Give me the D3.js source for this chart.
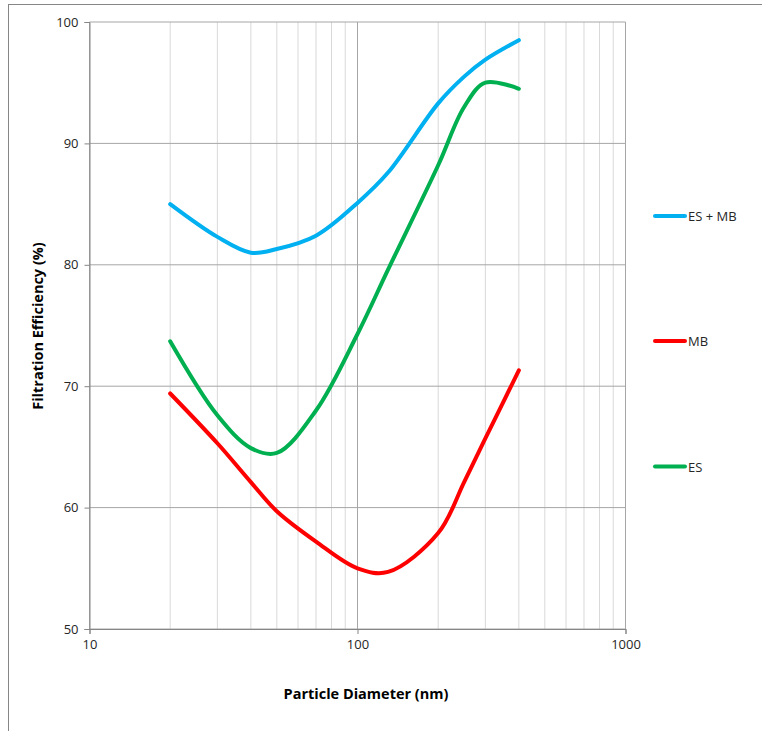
<!DOCTYPE html>
<html><head><meta charset="utf-8">
<script src="https://cdn.jsdelivr.net/npm/d3@7"></script>
<style>
body{margin:0;background:#fff;}
text{font-family:"Open Sans","Liberation Sans",sans-serif;}
</style></head>
<body><svg id="c" width="762" height="731"></svg>
<script>
const diameters = [20, 30, 40, 50, 70, 100, 130, 200, 250, 300, 400];
const esmb = [85.0, 82.3, 81.0, 81.3, 82.4, 85.1, 87.6, 93.3, 95.5, 96.9, 98.5];
const mb   = [69.4, 65.3, 62.1, 59.7, 57.2, 55.0, 54.7, 57.9, 62.1, 65.7, 71.3];
const es   = [73.7, 67.6, 64.9, 64.5, 68.0, 74.3, 79.6, 88.2, 93.0, 95.0, 94.5];
const seriesNames = ["ES + MB", "MB", "ES"];
const seriesColors = ["#00b0f0", "#ff0000", "#00b050"];
const yTicks = [50, 60, 70, 80, 90, 100];
const xTicks = [10, 100, 1000];

const svg = d3.select("#c");
svg.append("rect").attr("x", 8.5).attr("y", 4.5).attr("width", 800).attr("height", 800)
  .attr("fill", "none").attr("stroke", "#868686").attr("stroke-width", 1);

const L = 89.5, R = 625.5, T = 22, B = 629;
const x = d3.scaleLog().domain([10, 1000]).range([L, R]);
const y = d3.scaleLinear().domain([50, 100]).range([B, T]);

const minor = [];
for (let d = 10; d < 1000; d *= 10) for (let k = 2; k <= 9; k++) minor.push(d * k);
svg.append("g").selectAll("line").data(minor).join("line")
  .attr("x1", d => x(d)).attr("x2", d => x(d)).attr("y1", T).attr("y2", B)
  .attr("stroke", "#d9d9d9").attr("stroke-width", 1);
svg.append("g").selectAll("line").data(xTicks).join("line")
  .attr("x1", d => x(d)).attr("x2", d => x(d)).attr("y1", T).attr("y2", B)
  .attr("stroke", "#a6a6a6").attr("stroke-width", 1);
svg.append("g").selectAll("line").data(yTicks).join("line")
  .attr("x1", L).attr("x2", R).attr("y1", d => y(d)).attr("y2", d => y(d))
  .attr("stroke", "#a6a6a6").attr("stroke-width", 1);

const yAxis = svg.append("g").attr("transform", `translate(${L},0)`)
  .call(d3.axisLeft(y).tickValues(yTicks).tickSize(5).tickPadding(6).tickFormat(d3.format("d")));
const xAxis = svg.append("g").attr("transform", `translate(0,${B})`)
  .call(d3.axisBottom(x).tickValues(xTicks).tickSize(5).tickPadding(6).tickFormat(d3.format("d")));
[yAxis, xAxis].forEach(a => {
  a.select(".domain").attr("stroke", "#868686");
  a.selectAll(".tick line").attr("stroke", "#868686");
  a.selectAll(".tick text").attr("fill", "#262626").style("font-size", "13px")
    .style("font-family", "'Open Sans','Liberation Sans',sans-serif");
});

const allSeries = [esmb, mb, es];
const line = d3.line().x(d => x(d[0])).y(d => y(d[1])).curve(d3.curveCatmullRom.alpha(0.5));
allSeries.forEach((vals, i) => {
  svg.append("path").datum(diameters.map((d, j) => [d, vals[j]]))
    .attr("d", line).attr("fill", "none").attr("stroke", seriesColors[i])
    .attr("stroke-width", 4).attr("stroke-linecap", "round").attr("stroke-linejoin", "round");
});

const legY = [216, 341, 466.5];
seriesNames.forEach((n, i) => {
  svg.append("line").attr("x1", 655).attr("x2", 685).attr("y1", legY[i]).attr("y2", legY[i])
    .attr("stroke", seriesColors[i]).attr("stroke-width", 4).attr("stroke-linecap", "round");
  svg.append("text").attr("x", 688).attr("y", legY[i] + 5).text(n)
    .attr("fill", "#262626").style("font-size", "13px");
});

svg.append("text").attr("x", 366).attr("y", 699).attr("text-anchor", "middle")
  .style("font-size", "14.5px").style("font-weight", "bold").attr("fill", "#000")
  .text("Particle Diameter (nm)");
svg.append("text").attr("transform", "translate(43,326) rotate(-90)").attr("text-anchor", "middle")
  .style("font-size", "14.5px").style("font-weight", "bold").attr("fill", "#000")
  .text("Filtration Efficiency (%)");
</script></body></html>
